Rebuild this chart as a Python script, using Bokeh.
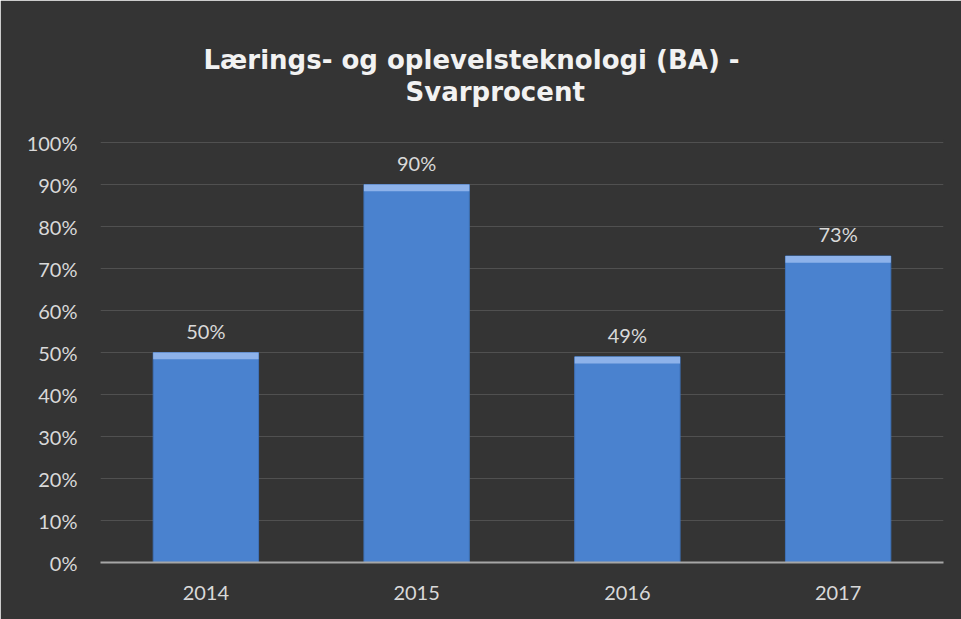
from bokeh.plotting import figure
from bokeh.models import (ColumnDataSource, LabelSet, Title, FixedTicker,
                          NumeralTickFormatter, Range1d, FactorRange)
from bokeh.core.properties import value
from bokeh.embed import file_html
from bokeh.resources import INLINE

# ---- data ----
years = ["2014", "2015", "2016", "2017"]
rates = [0.50, 0.90, 0.49, 0.73]
rate_labels = ["50%", "90%", "49%", "73%"]
y_ticks = [0.0, 0.1, 0.2, 0.3, 0.4, 0.5, 0.6, 0.7, 0.8, 0.9, 1.0]
title_line1 = "Lærings- og oplevelsteknologi (BA) -"
title_line2 = "Svarprocent"

BG = "#343434"
TXT = "#d9d9d9"
FONT = "Lato"
TFONT = "DejaVu Sans"

src = ColumnDataSource(dict(
    year=years,
    rate=rates,
    label=rate_labels,
    bevel_bottom=[r - 0.016 for r in rates],
))

p = figure(width=961, height=619, output_backend="svg", toolbar_location=None,
           x_range=FactorRange(*years, range_padding=0),
           y_range=Range1d(0, 1.005),
           min_border_left=100, min_border_right=18,
           min_border_top=140, min_border_bottom=57)

p.border_fill_color = BG
p.background_fill_color = BG
p.outline_line_color = BG
p.outline_line_width = 2

# bars
p.vbar(x="year", top="rate", width=0.5, source=src,
       fill_color="#4a82cf", line_color="#3f72b8", line_width=1)
# light top bevel
p.vbar(x="year", top="rate", bottom="bevel_bottom", width=0.5, source=src,
       fill_color="#8db2ea", line_color=None)

# data labels
p.add_layout(LabelSet(x="year", y="rate", text="label", source=src,
                      y_offset=22, text_align="center", text_baseline="middle",
                      text_color=TXT, text_font=value(FONT),
                      text_font_size=value("20px")))

# axes
p.xgrid.grid_line_color = None
p.ygrid.grid_line_color = "#505050"
p.ygrid.grid_line_width = 1
p.ygrid.ticker = FixedTicker(ticks=y_ticks)

p.yaxis.ticker = FixedTicker(ticks=y_ticks)
p.yaxis.formatter = NumeralTickFormatter(format="0%")
p.yaxis.axis_line_color = None
p.yaxis.major_tick_line_color = None
p.yaxis.minor_tick_line_color = None
p.yaxis.major_tick_out = 0
p.yaxis.major_label_standoff = 23
p.yaxis.major_label_text_color = TXT
p.yaxis.major_label_text_font = FONT
p.yaxis.major_label_text_font_size = "20px"

p.xaxis.axis_line_color = "#a6a6a6"
p.xaxis.axis_line_width = 2
p.xaxis.major_tick_line_color = None
p.xaxis.minor_tick_line_color = None
p.xaxis.major_tick_out = 0
p.xaxis.major_label_standoff = 23
p.xaxis.major_label_text_color = TXT
p.xaxis.major_label_text_font = FONT
p.xaxis.major_label_text_font_size = "20px"

# title (two lines), stacked outward from the plot: spacer, line 2, line 1
p.add_layout(Title(text=" ", text_font_size="1px", standoff=31), "above")
p.add_layout(Title(text=title_line2, align="left", offset=305,
                   text_color="#f2f2f2", text_font=TFONT,
                   text_font_style="bold", text_font_size="26px",
                   standoff=0), "above")
p.add_layout(Title(text=title_line1, align="left", offset=103,
                   text_color="#f2f2f2", text_font=TFONT,
                   text_font_style="bold", text_font_size="26px",
                   standoff=0), "above")

open("out.html", "w").write(file_html(p, INLINE))
